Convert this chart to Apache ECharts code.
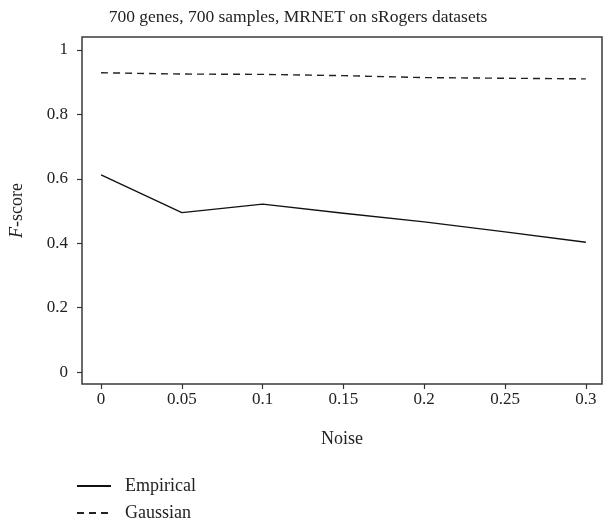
<!DOCTYPE html>
<html>
<head>
<meta charset="utf-8">
<script src="https://cdn.jsdelivr.net/npm/echarts@6/dist/echarts.min.js"></script>
<style>
  html, body { margin: 0; padding: 0; background: #fff; }
  #main { width: 603px; height: 526px; }
</style>
</head>
<body>
<div id="main"></div>
<script>
// noise levels and F-scores
const noise = [0, 0.05, 0.1, 0.15, 0.2, 0.25, 0.3];
const empirical = [0.612, 0.495, 0.521, 0.493, 0.466, 0.435, 0.403];
const gaussian = [0.929, 0.925, 0.924, 0.920, 0.914, 0.912, 0.910];
const xTicks = [0, 0.05, 0.1, 0.15, 0.2, 0.25, 0.3];
const yTicks = [0, 0.2, 0.4, 0.6, 0.8, 1];

const font = 'Liberation Serif';
const chart = echarts.init(document.getElementById('main'));

// one legend box per entry, stacked
const legendBox = (name, top) => ({
  orient: 'vertical', left: 76, top: top, padding: 0,
  itemWidth: 34, itemHeight: 12,
  itemStyle: { opacity: 0 },
  textStyle: { fontFamily: font, fontSize: 18, color: '#222', padding: [0, 0, 0, 9] },
  data: [name]
});

const option = {
  animation: false,
  title: {
    text: '700 genes, 700 samples, MRNET on sRogers datasets',
    left: 293, top: 3, textAlign: 'center',
    textStyle: { fontFamily: font, fontSize: 17.5, fontWeight: 'normal', color: '#222' }
  },
  grid: {
    left: 82, top: 37, right: 1, bottom: 142,
    outerBoundsMode: 'none', containLabel: false,
    show: true, borderColor: '#3a3a3a', borderWidth: 1.5, backgroundColor: 'transparent'
  },
  legend: [legendBox('Empirical', 477), legendBox('Gaussian', 504)],
  xAxis: {
    type: 'value', min: -0.0118, max: 0.31,
    name: 'Noise', nameLocation: 'middle', nameGap: 46,
    nameTextStyle: { fontFamily: font, fontSize: 18, color: '#222' },
    axisLine: { show: false, onZero: false },
    axisTick: { show: true, length: 5, customValues: xTicks, lineStyle: { color: '#333', width: 1.2 } },
    axisLabel: { customValues: xTicks, margin: 7, fontFamily: font, fontSize: 17, color: '#222',
      formatter: v => String(+v.toFixed(2)) },
    splitLine: { show: false }
  },
  yAxis: {
    type: 'value', min: -0.037, max: 1.04,
    name: '{i|F}-score', nameLocation: 'middle', nameGap: 56, nameRotate: 90,
    nameTextStyle: { fontFamily: font, fontSize: 18, color: '#222',
      rich: { i: { fontFamily: font, fontSize: 18, fontStyle: 'italic', color: '#222' } } },
    axisLine: { show: false, onZero: false },
    axisTick: { show: true, length: 5, customValues: yTicks, lineStyle: { color: '#333', width: 1.2 } },
    axisLabel: { customValues: yTicks, margin: 14, fontFamily: font, fontSize: 17, color: '#222',
      formatter: v => String(+v.toFixed(1)) },
    splitLine: { show: false }
  },
  series: [
    {
      name: 'Empirical', type: 'line', symbol: 'none',
      data: noise.map((x, i) => [x, empirical[i]]),
      lineStyle: { color: '#111', width: 1.3, type: 'solid' },
      itemStyle: { color: '#111' }
    },
    {
      name: 'Gaussian', type: 'line', symbol: 'none',
      data: noise.map((x, i) => [x, gaussian[i]]),
      lineStyle: { color: '#222', width: 1.4, type: [7, 5] },
      itemStyle: { color: '#222' }
    }
  ]
};

chart.setOption(option);
window.onresize = () => { chart.resize(); };
</script>
</body>
</html>
